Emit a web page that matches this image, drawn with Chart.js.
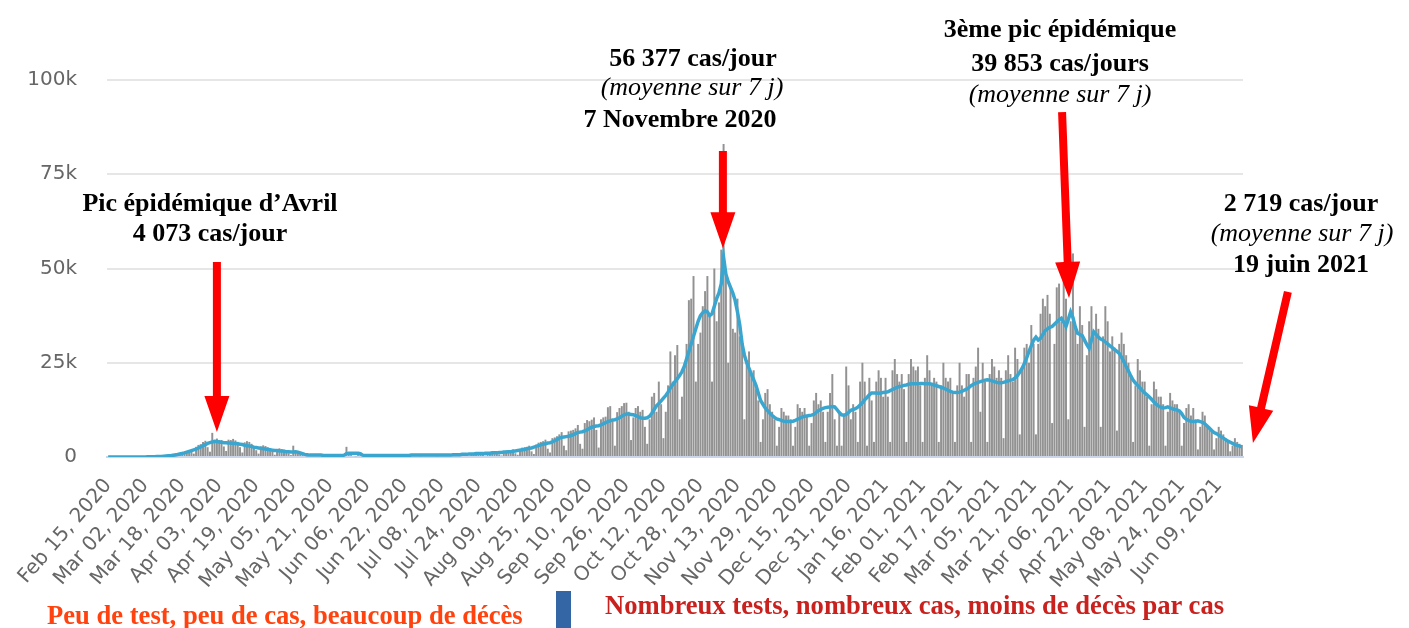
<!DOCTYPE html>
<html>
<head>
<meta charset="utf-8">
<script src="https://cdn.jsdelivr.net/npm/chart.js@4/dist/chart.umd.min.js"></script>
<style>
  body { margin: 0; background: #fff; }
  #wrap { position: relative; width: 1409px; height: 628px; overflow: hidden; }
  #chart { position: absolute; left: 0; top: 0; }
  .note {
    position: absolute; transform: translateX(-50%);
    font-family: "Liberation Serif", "Times New Roman", serif;
    font-size: 26px; line-height: 26px; font-weight: bold;
    white-space: nowrap; color: #000;
  }
  .note.it { font-weight: normal; font-style: italic; }
  .foot {
    position: absolute;
    font-family: "Liberation Serif", "Times New Roman", serif;
    font-size: 26.6px; line-height: 26px; font-weight: bold; white-space: nowrap;
  }
  #sep { position: absolute; left: 556px; top: 591px; width: 15px; height: 37px; background: #3465a4; }
</style>
</head>
<body>
<div id="wrap">
  <canvas id="chart" width="1409" height="628"></canvas>

  <div class="note" style="left:210px; top:190px">Pic épidémique d’Avril</div>
  <div class="note" style="left:210px; top:220px">4 073 cas/jour</div>

  <div class="note" style="left:693px; top:45px">56 377 cas/jour</div>
  <div class="note it" style="left:692px; top:74px">(moyenne sur 7 j)</div>
  <div class="note" style="left:680px; top:106px">7 Novembre 2020</div>

  <div class="note" style="left:1060px; top:16px">3ème pic épidémique</div>
  <div class="note" style="left:1060px; top:50px">39 853 cas/jours</div>
  <div class="note it" style="left:1060px; top:81px">(moyenne sur 7 j)</div>

  <div class="note" style="left:1301px; top:190px">2 719 cas/jour</div>
  <div class="note it" style="left:1302px; top:220px">(moyenne sur 7 j)</div>
  <div class="note" style="left:1301px; top:251px">19 juin 2021</div>

  <div class="foot" style="left:47px; top:602px; color:#ff420e">Peu de test, peu de cas, beaucoup de décès</div>
  <div id="sep"></div>
  <div class="foot" style="left:605px; top:592px; color:#c9211e">Nombreux tests, nombreux cas, moins de décès par cas</div>
</div>

<script>
// first day of the series, one value per day from there
const startDate = [2020, 1, 15];

// daily new cases, thousands (weeks start on Saturday)
const dailyCases = [
  0,0,0,0,0,0,0,
  0,0,0,0,0,0,0,
  0,0,0,0.1,0,0.1,0.1,
  0.1,0.2,0.1,0.3,0.3,0.4,0.5,
  0.8,0.9,0.4,1.1,1.3,1.4,1.6,
  1.8,1.5,0.9,2.7,3.2,3.4,4.0,
  4.3,2.6,1.4,6.4,4.6,4.9,4.5,
  4.5,2.8,1.6,4.6,4.5,4.8,4.4,
  4.0,2.6,1.2,3.9,4.2,4.0,3.5,
  2.9,1.8,0.9,2.8,3.1,2.9,2.6,
  2.0,1.4,0.6,2.1,2.3,2.1,1.9,
  1.5,1.0,0.5,3.0,1.7,1.5,1.3,
  0.6,0.5,0.2,0.7,0.8,0.7,0.6,
  0.5,0.4,0.2,0.5,0.6,0.5,0.5,
  0.5,0.3,0.2,0.5,0.5,2.7,0.6,
  0.5,0.3,0.2,0.5,0.6,0.5,0.5,
  0.5,0.3,0.2,0.4,0.5,0.5,0.5,
  0.5,0.3,0.2,0.5,0.5,0.5,0.5,
  0.5,0.3,0.2,0.5,0.6,0.5,0.6,
  0.6,0.3,0.2,0.6,0.6,0.6,0.6,
  0.6,0.3,0.2,0.6,0.6,0.7,0.6,
  0.6,0.4,0.3,0.7,0.8,0.8,0.8,
  0.9,0.5,0.3,0.9,1.0,1.1,1.0,
  1.1,0.6,0.4,1.2,1.3,1.4,1.3,
  1.4,0.7,0.4,1.6,1.7,1.8,1.7,
  2.0,1.0,0.6,2.2,2.5,2.6,2.7,
  3.0,1.5,0.8,3.3,3.8,4.0,4.2,
  4.6,2.2,1.2,5.0,5.2,5.5,6.0,
  6.6,3.0,1.8,6.8,7.0,7.2,7.6,
  8.5,3.5,2.2,9.0,9.8,9.5,9.9,
  10.5,7.2,2.5,10.0,10.5,10.7,13.2,
  13.5,10.0,3.0,11.9,13.0,13.5,14.3,
  14.4,12.0,4.5,10.5,13.0,13.5,12.0,
  12.5,8.0,3.5,10.0,16.0,17.0,12.0,
  20,14,5,12,19,28,20,
  27,29.7,10,16,24,30,41.6,
  42,48,20,30,33,40,44,
  48,38,20,50,36,41,55,
  83,48,25,45,34,33,42,
  32,32,10,25.7,28,22,23,
  18,15,4,10,17,18,14,
  12,10,3,8,13,12,11,
  11,10,3,8,14,13,12,
  13,11,3,9,15,17,14,
  15,12,4,12,17,22,10,
  3,12,3,11,24,19,10,
  14,12,4,20,25,20,3,
  21,15,4,20,23,21,16,
  21,16,4,23,26,22,20,
  22,18,4,22,26,24,23,
  24,19,4,21,27,23,19,
  21,20,4,19,25,21,20,
  21,17,4,19,25,19,16,
  22,22,4,21,24,29,12,
  25,20,4,22,26,24,21,
  23,21,5,23,27,22,20,
  29,26,6,24,29,30,25,
  35,30,6,30,38,42,40,
  43,38,9,30,45,46,36,
  47,42,10,36,54,34,30,
  40,35,8,27,36,40,32,
  38,34,8,32,40,36,28,
  32,29,7,30,33,30,27,
  25,22,4,19,26,23,20,
  20,16,3,14,20,18,16,
  16,14,3,12,17,15,14,
  14,12,3,9,13,14,11,
  13,10,2,8,12,11,8,
  8,7,2,5,8,7,6,
  5,4,1.5,3,5,4,3.5,
  3.2
];

// 7-day average, thousands
const avg7 = [
  0,0,0,0,0,0,0,
  0,0,0,0,0,0,0,
  0.01,0.02,0.03,0.04,0.05,0.06,0.08,
  0.1,0.13,0.16,0.2,0.25,0.3,0.36,
  0.45,0.55,0.65,0.8,0.95,1.1,1.3,
  1.5,1.7,1.9,2.1,2.4,2.7,3.0,
  3.3,3.6,3.8,4.0,4.1,4.1,4.0,
  3.9,3.8,3.8,3.7,3.7,3.6,3.6,
  3.5,3.4,3.3,3.1,3.0,2.9,2.8,
  2.6,2.5,2.4,2.3,2.2,2.1,2.0,
  1.9,1.8,1.7,1.7,1.6,1.6,1.5,
  1.4,1.4,1.3,1.3,1.4,1.3,1.1,
  0.9,0.7,0.6,0.5,0.5,0.5,0.5,
  0.5,0.5,0.4,0.4,0.4,0.4,0.4,
  0.4,0.4,0.4,0.4,0.5,0.9,1.0,
  1.0,1.0,1.0,1.0,0.9,0.5,0.4,
  0.4,0.4,0.4,0.4,0.4,0.4,0.4,
  0.4,0.4,0.4,0.4,0.4,0.4,0.4,
  0.4,0.4,0.4,0.4,0.4,0.5,0.5,
  0.5,0.5,0.5,0.5,0.5,0.5,0.5,
  0.5,0.5,0.5,0.5,0.5,0.5,0.5,
  0.5,0.5,0.6,0.6,0.6,0.6,0.7,
  0.7,0.7,0.8,0.8,0.8,0.9,0.9,
  0.9,0.9,1.0,1.0,1.0,1.1,1.1,
  1.1,1.2,1.2,1.3,1.3,1.4,1.4,
  1.5,1.6,1.7,1.8,1.9,2.0,2.2,
  2.3,2.4,2.6,2.8,3.0,3.2,3.4,
  3.5,3.7,3.8,4.0,4.3,4.6,5.0,
  5.2,5.3,5.4,5.5,5.7,5.9,6.2,
  6.5,6.6,6.7,6.9,7.2,7.6,7.9,
  8.1,8.2,8.3,8.5,8.8,9.1,9.4,
  9.6,9.8,9.9,10.1,10.4,10.8,11.2,
  11.4,11.4,11.3,11.2,11.0,10.7,10.4,
  10.3,10.3,10.4,10.8,11.6,12.6,13.6,
  14.2,14.9,15.6,16.3,17.2,18.3,19.2,
  20.0,20.8,21.6,22.6,24.0,26.0,28.0,
  30.0,32.0,34.0,36.0,37.5,38.3,38.8,
  38.5,37.5,38.0,40.0,42.0,43.5,46.0,
  53.0,48.5,46.5,45.0,43.5,41.5,38.5,
  35.0,30.0,27.0,25.0,23.5,22.0,20.5,
  19.0,17.0,15.0,14.0,13.0,12.3,11.6,
  11.0,10.5,10.1,9.9,9.7,9.5,9.4,
  9.4,9.4,9.5,9.7,10.0,10.3,10.6,
  10.8,10.9,11.0,11.1,11.3,11.8,12.3,
  12.6,12.9,13.1,13.2,13.3,13.4,13.3,
  12.6,11.8,11.2,11.1,11.3,11.8,12.4,
  12.6,12.8,13.2,13.8,14.4,15.2,15.8,
  16.5,17.0,17.0,17.0,16.9,17.0,17.1,
  17.2,17.3,17.6,17.9,18.2,18.5,18.7,
  18.8,19.0,19.1,19.3,19.4,19.4,19.4,
  19.4,19.5,19.5,19.4,19.4,19.4,19.3,
  19.1,18.9,18.7,18.5,18.3,18.0,17.7,
  17.4,17.2,17.1,17.1,17.2,17.4,17.7,
  18.0,18.4,18.9,19.3,19.6,19.8,20.0,
  20.2,20.4,20.5,20.4,20.2,20.0,19.8,
  19.7,19.7,19.8,20.0,20.2,20.4,20.5,
  21.0,21.6,22.5,23.5,24.8,26.3,28.0,
  29.5,31.0,31.8,31.0,31.5,32.5,33.5,
  34.0,34.4,34.6,35.2,35.8,36.4,36.8,
  35.8,34.6,36.5,38.5,37.0,34.5,32.8,
  32.5,32.2,31.0,29.8,28.8,31.0,33.2,
  32.5,31.8,31.3,31.0,30.5,30.0,29.5,
  29.0,28.5,28.0,27.5,26.5,25.3,24.0,
  22.8,21.5,20.4,19.6,19.0,18.3,17.6,
  17.0,16.5,15.9,15.3,14.6,14.0,13.5,
  13.2,13.0,13.1,13.3,13.0,12.8,12.6,
  12.5,12.2,11.5,10.5,10.0,9.7,9.5,
  9.4,9.4,9.6,9.4,9.2,8.8,8.2,
  7.6,7.0,6.5,6.2,5.8,5.4,5.0,
  4.6,4.2,3.9,3.6,3.3,3.1,2.9,
  2.7
];

const tickLabels = [
  'Feb 15, 2020','Mar 02, 2020','Mar 18, 2020','Apr 03, 2020','Apr 19, 2020',
  'May 05, 2020','May 21, 2020','Jun 06, 2020','Jun 22, 2020','Jul 08, 2020',
  'Jul 24, 2020','Aug 09, 2020','Aug 25, 2020','Sep 10, 2020','Sep 26, 2020',
  'Oct 12, 2020','Oct 28, 2020','Nov 13, 2020','Nov 29, 2020','Dec 15, 2020',
  'Dec 31, 2020','Jan 16, 2021','Feb 01, 2021','Feb 17, 2021','Mar 05, 2021',
  'Mar 21, 2021','Apr 06, 2021','Apr 22, 2021','May 08, 2021','May 24, 2021',
  'Jun 09, 2021'
];

const yTicks = [0, 25, 50, 75, 100];

// red arrows, in chart units: [day index, thousands]
const arrows = [
  { from: [47.0, 51.7], to: [47.0, 6.6] },
  { from: [265.7, 81.2], to: [265.7, 55.4] },
  { from: [412.3, 91.5], to: [415.3, 42.2] },
  { from: [509.9, 43.8], to: [494.8, 3.7] }
];

const months = ['Jan','Feb','Mar','Apr','May','Jun','Jul','Aug','Sep','Oct','Nov','Dec'];
const days = dailyCases.map((_, i) => {
  const d = new Date(Date.UTC(startDate[0], startDate[1], startDate[2] + i));
  return months[d.getUTCMonth()] + ' ' + String(d.getUTCDate()).padStart(2, '0') + ', ' + d.getUTCFullYear();
});

const arrowPlugin = {
  id: 'arrows',
  afterDatasetsDraw(chart) {
    const { ctx, scales: { x, y } } = chart;
    ctx.save();
    ctx.fillStyle = '#ff0000';
    arrows.forEach(a => {
      const x1 = x.getPixelForValue(a.from[0]), y1 = y.getPixelForValue(a.from[1]);
      const x2 = x.getPixelForValue(a.to[0]), y2 = y.getPixelForValue(a.to[1]);
      const len = Math.hypot(x2 - x1, y2 - y1);
      const dx = (x2 - x1) / len, dy = (y2 - y1) / len;
      const nx = -dy, ny = dx;
      const head = 36, hw = 12.5, sw = 4;
      const bx = x2 - dx * head, by = y2 - dy * head;
      ctx.beginPath();
      ctx.moveTo(x1 + nx * sw, y1 + ny * sw);
      ctx.lineTo(bx + nx * sw, by + ny * sw);
      ctx.lineTo(bx + nx * hw, by + ny * hw);
      ctx.lineTo(x2, y2);
      ctx.lineTo(bx - nx * hw, by - ny * hw);
      ctx.lineTo(bx - nx * sw, by - ny * sw);
      ctx.lineTo(x1 - nx * sw, y1 - ny * sw);
      ctx.closePath();
      ctx.fill();
    });
    ctx.restore();
  }
};

new Chart(document.getElementById('chart'), {
  type: 'bar',
  data: {
    labels: days,
    datasets: [
      {
        type: 'line',
        label: 'Moyenne sur 7 jours',
        data: avg7,
        borderColor: '#3aa6cf',
        borderWidth: 3.5,
        pointRadius: 0,
        tension: 0,
        order: 0
      },
      {
        label: 'Nouveaux cas',
        data: dailyCases,
        backgroundColor: '#929292',
        barPercentage: 0.85,
        categoryPercentage: 1,
        order: 1
      }
    ]
  },
  options: {
    responsive: false,
    animation: false,
    layout: { padding: { left: 0, right: 166, top: 80, bottom: 0 } },
    plugins: { legend: { display: false }, tooltip: { enabled: false } },
    scales: {
      x: {
        afterFit: s => { s.height = 171; },
        grid: { display: false },
        border: { color: '#ccd6eb', width: 2 },
        ticks: {
          autoSkip: false,
          minRotation: 49,
          maxRotation: 49,
          padding: 9,
          color: '#666',
          font: { family: 'DejaVu Sans', size: 20 },
          callback: (v) => tickLabels.includes(days[v]) ? days[v] : ''
        }
      },
      y: {
        min: 0,
        max: 100,
        afterFit: s => { s.width = 107; },
        afterBuildTicks: s => { s.ticks = yTicks.map(v => ({ value: v })); },
        border: { display: false },
        grid: {
          color: c => c.tick && c.tick.value === 0 ? 'rgba(0,0,0,0)' : '#e6e6e6',
          lineWidth: 2,
          drawTicks: false
        },
        ticks: {
          padding: 30,
          color: '#666',
          font: { family: 'DejaVu Sans', size: 20 },
          callback: v => v === 0 ? '0' : v + 'k'
        }
      }
    }
  },
  plugins: [arrowPlugin]
});
</script>
</body>
</html>
